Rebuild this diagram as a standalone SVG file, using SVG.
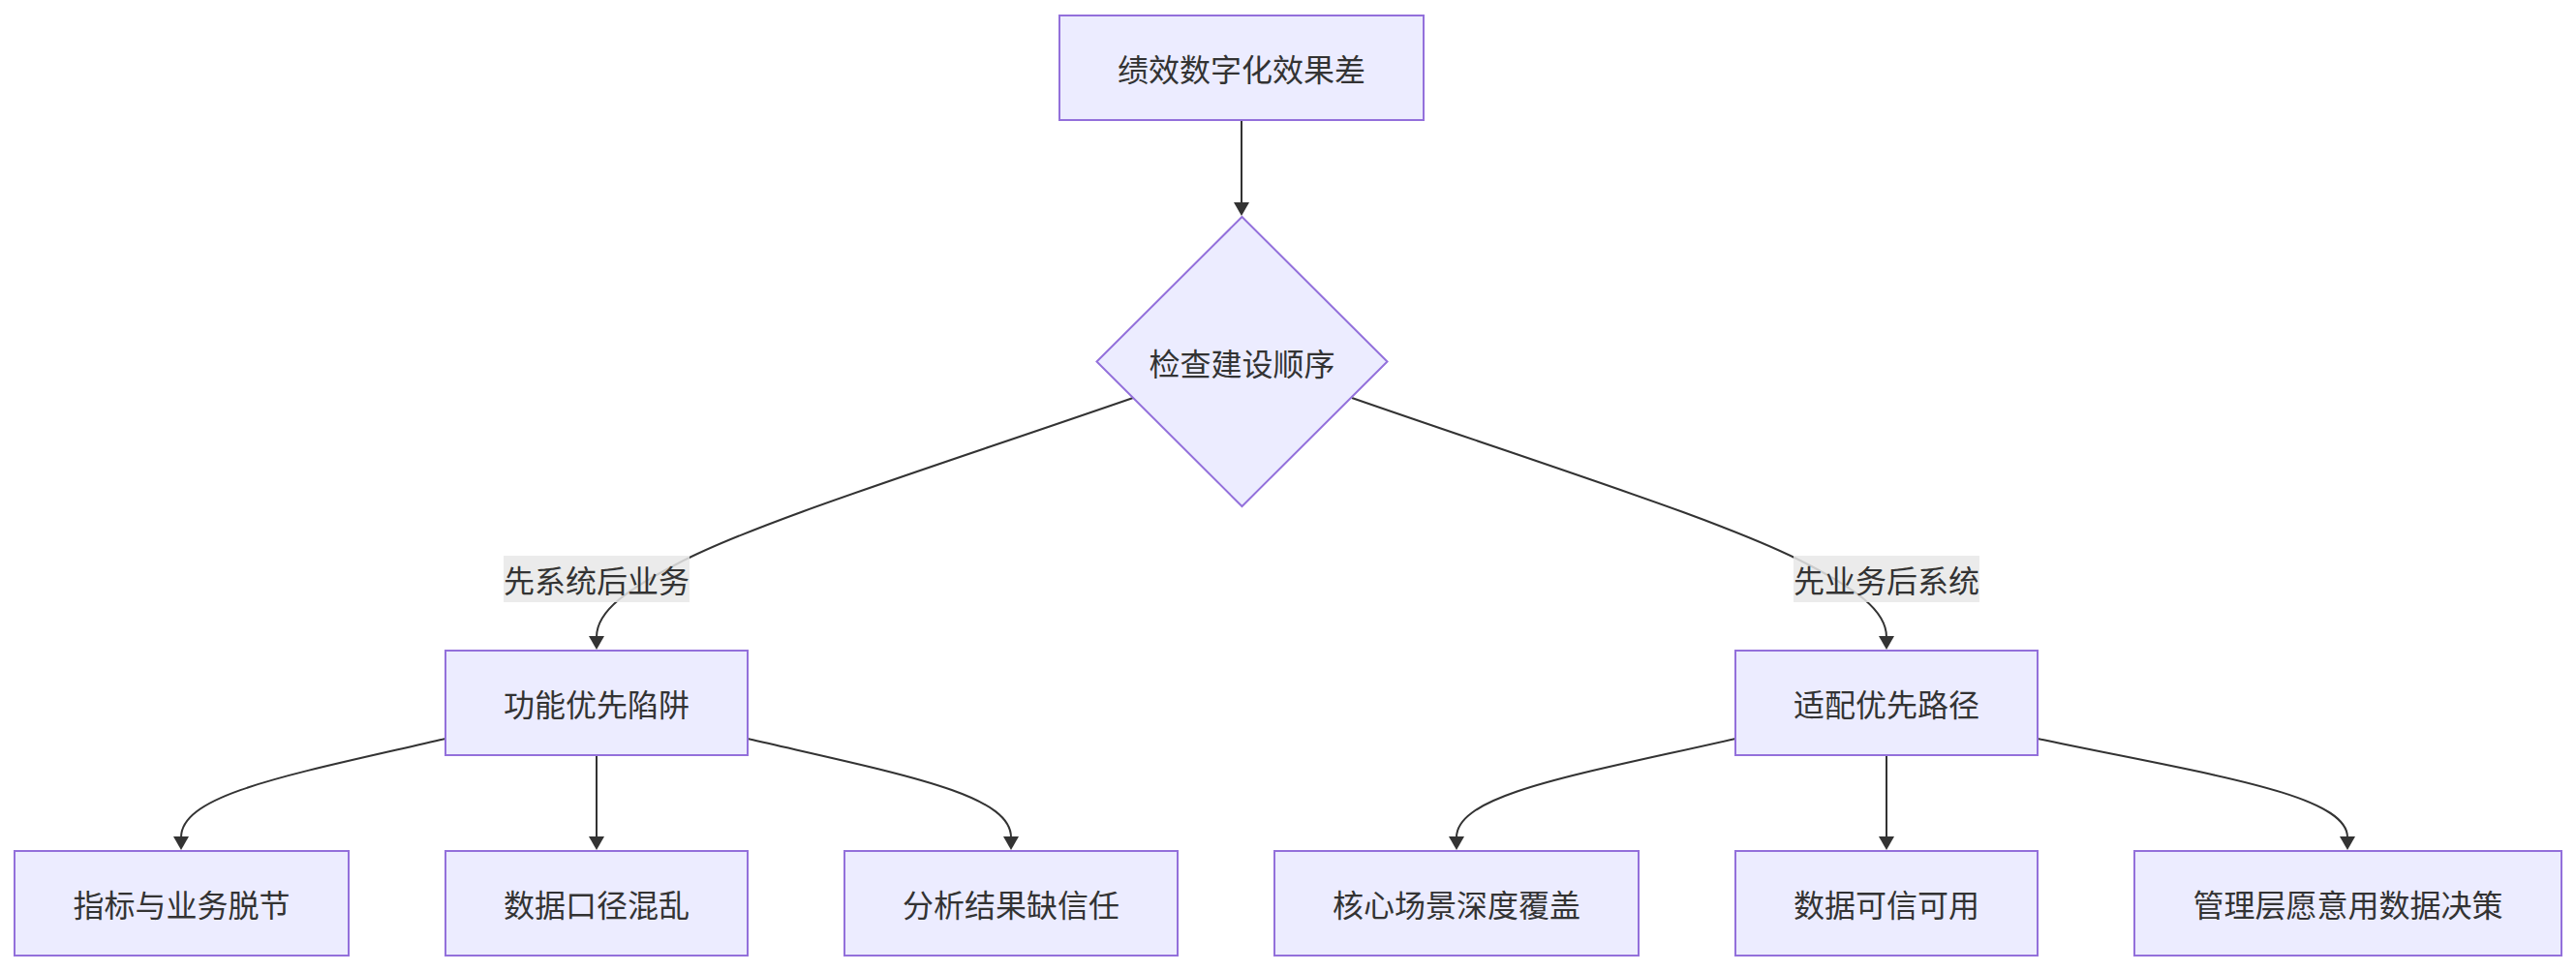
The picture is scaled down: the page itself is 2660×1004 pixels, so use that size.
<svg xmlns="http://www.w3.org/2000/svg" width="2660" height="1004" viewBox="0 0 2660 1004">
<style>
.node rect, .node polygon { fill: #ECECFF; stroke: #9370DB; stroke-width: 2; }
.node text, .label text { font-family: "Noto Sans CJK SC", "Noto Sans", sans-serif; font-size: 32px; fill: #333333; text-anchor: middle; dominant-baseline: central; }
.edge { fill: none; stroke: #333333; stroke-width: 2; marker-end: url(#arrow); }
.label rect { fill: #e8e8e8; fill-opacity: 0.85; }
</style>
<defs>
<marker id="arrow" markerUnits="userSpaceOnUse" markerWidth="14" markerHeight="16" viewBox="0 0 14 16" refX="1" refY="8" orient="auto">
<path d="M0,0 L14,8 L0,16 z" fill="#333333"/>
</marker>
</defs>
<rect width="2660" height="1004" fill="#ffffff"/>
<g id="connectors">
<path class="edge" d="M1282,124 L1282,210"/>
<path class="edge" d="M1170,411 C950,487 780,540 700,582 C650,608 616,630 616,658"/>
<path class="edge" d="M1396,411 C1615,487 1785,540 1865,582 C1915,608 1948,630 1948,658"/>
<path class="edge" d="M460,763 C300,800 187,820 187,865"/>
<path class="edge" d="M616,780 L616,865"/>
<path class="edge" d="M772,763 C932,800 1044,820 1044,865"/>
<path class="edge" d="M1792,763 C1630,800 1504,820 1504,865"/>
<path class="edge" d="M1948,780 L1948,865"/>
<path class="edge" d="M2104,763 C2280,800 2424,820 2424,865"/>
</g>
<g id="label-left" class="label">
<rect x="520" y="574" width="192" height="48"/>
<text x="616" y="598">先系统后业务</text>
</g>
<g id="label-right" class="label">
<rect x="1852" y="574" width="192" height="48"/>
<text x="1948" y="598">先业务后系统</text>
</g>
<g id="n-top" class="node">
<rect x="1094" y="16" width="376" height="108"/>
<text x="1282" y="70">绩效数字化效果差</text>
</g>
<g id="n-check" class="node">
<polygon points="1282.5,224 1432.5,373.5 1282.5,523 1132.5,373.5"/>
<text x="1282.5" y="373.5">检查建设顺序</text>
</g>
<g id="n-func" class="node">
<rect x="460" y="672" width="312" height="108"/>
<text x="616" y="726">功能优先陷阱</text>
</g>
<g id="n-fit" class="node">
<rect x="1792" y="672" width="312" height="108"/>
<text x="1948" y="726">适配优先路径</text>
</g>
<g id="n-b1" class="node">
<rect x="15" y="879" width="345" height="108"/>
<text x="187.5" y="933">指标与业务脱节</text>
</g>
<g id="n-b2" class="node">
<rect x="460" y="879" width="312" height="108"/>
<text x="616" y="933">数据口径混乱</text>
</g>
<g id="n-b3" class="node">
<rect x="872" y="879" width="344" height="108"/>
<text x="1044" y="933">分析结果缺信任</text>
</g>
<g id="n-b4" class="node">
<rect x="1316" y="879" width="376" height="108"/>
<text x="1504" y="933">核心场景深度覆盖</text>
</g>
<g id="n-b5" class="node">
<rect x="1792" y="879" width="312" height="108"/>
<text x="1948" y="933">数据可信可用</text>
</g>
<g id="n-b6" class="node">
<rect x="2204" y="879" width="441" height="108"/>
<text x="2424.5" y="933">管理层愿意用数据决策</text>
</g>
</svg>
